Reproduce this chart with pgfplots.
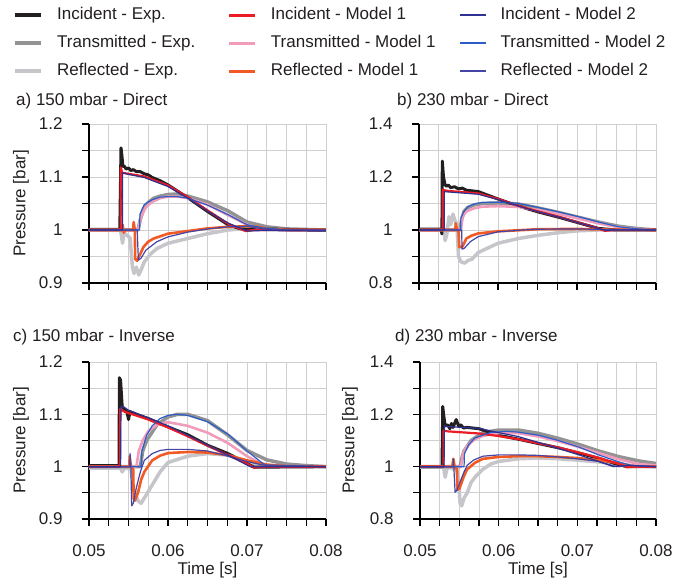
\documentclass[border=0pt]{standalone}
\usepackage{pgfplots}
\pgfplotsset{compat=1.18}
\usepackage{fontspec}
\setmainfont{Liberation Sans}
\definecolor{cIE}{HTML}{231F20}
\definecolor{cTE}{HTML}{939393}
\definecolor{cRE}{HTML}{C6C6CA}
\definecolor{cI1}{HTML}{ED1C24}
\definecolor{cT1}{HTML}{F19CBB}
\definecolor{cR1}{HTML}{F15A24}
\definecolor{cI2}{HTML}{2E3192}
\definecolor{cT2}{HTML}{2B5CC8}
\definecolor{cR2}{HTML}{4545A5}
\definecolor{gridc}{HTML}{CFCFCF}
\definecolor{txt}{HTML}{231F20}
\newcommand{\fs}{\fontsize{17}{20}\selectfont}
\pgfplotsset{
  ie/.style={color=cIE, line width=3pt, line join=round},
  te/.style={color=cTE, line width=3.5pt, line join=round},
  re/.style={color=cRE, line width=3.5pt, line join=round},
  i1/.style={color=cI1, line width=2.2pt, line join=round},
  t1/.style={color=cT1, line width=2.6pt, line join=round},
  r1/.style={color=cR1, line width=2.6pt, line join=round},
  i2/.style={color=cI2, line width=1.2pt, line join=round},
  t2/.style={color=cT2, line width=1.2pt, line join=round},
  r2/.style={color=cR2, line width=1.2pt, line join=round},
  panel/.style={
    scale only axis, width=237pt, height=159pt,
    xmin=0.05, xmax=0.08,
    xtick={0.05,0.06,0.07,0.08},
    minor xtick={0.0525,0.055,0.0575,0.0625,0.065,0.0675,0.0725,0.075,0.0775},
    scaled x ticks=false, scaled y ticks=false,
    grid=both,
    major grid style={draw=gridc, line width=0.9pt},
    minor grid style={draw=gridc, line width=0.9pt},
    axis x line*=bottom, axis y line*=left,
    axis line style={line width=2.4pt, black},
    tick align=outside, major tick length=7pt, minor tick length=7pt,
    every tick/.style={line width=1.3pt, black},
    ticklabel style={font=\fs, text=txt},
    xticklabel style={yshift=-15pt},
    yticklabel style={xshift=-16pt},
    every axis y label/.style={at={(axis description cs:-0.287,0.5)}, rotate=90, anchor=center, font=\fs, text=txt},
    every axis x label/.style={at={(axis description cs:0.5,-0.325)}, anchor=center, font=\fs, text=txt},
    no markers,
    legend image code/.code={\draw[##1] (0pt,0pt) -- (26pt,0pt);},
  },
  lowy/.style={ymin=0.9, ymax=1.2, ytick={0.9,1,1.1,1.2}, yticklabels={0.9,1,1.1,1.2}, minor ytick={0.95,1.05,1.15}},
  highy/.style={ymin=0.8, ymax=1.4, ytick={0.8,1,1.2,1.4}, yticklabels={0.8,1,1.2,1.4}, minor ytick={0.9,1.1,1.3}},
}
\begin{document}
\begin{tikzpicture}
\path[use as bounding box] (0,0) rectangle (673pt,586pt);
% ---------------- a) 150 mbar - Direct
\begin{axis}[panel, lowy, at={(89pt,303pt)}, anchor=south west,
  xticklabels={}, ylabel={Pressure [bar]},
  legend columns=3,
  legend style={at={(axis description cs:-0.3207,1.735)}, anchor=north west, draw=none, fill=none,
    inner sep=0pt, font=\fs, text=txt,
    nodes={inner sep=0pt, text height=12.5pt, text depth=3.5pt},
    row sep=12pt, column sep=0pt,
    /tikz/column 1/.style={column sep=14pt},
    /tikz/column 2/.style={column sep=32pt},
    /tikz/column 3/.style={column sep=14pt},
    /tikz/column 4/.style={column sep=23pt},
    /tikz/column 5/.style={column sep=14pt}},
  legend cell align=left]
\addlegendimage{color=cIE, line width=4pt}\addlegendentry{Incident - Exp.}
\addlegendimage{color=cI1, line width=3.5pt}\addlegendentry{Incident - Model 1}
\addlegendimage{color=cI2, line width=2pt}\addlegendentry{Incident - Model 2}
\addlegendimage{color=cTE, line width=4pt}\addlegendentry{Transmitted - Exp.}
\addlegendimage{color=cT1, line width=3.5pt}\addlegendentry{Transmitted - Model 1}
\addlegendimage{color=cT2, line width=2pt}\addlegendentry{Transmitted - Model 2}
\addlegendimage{color=cRE, line width=4pt}\addlegendentry{Reflected - Exp.}
\addlegendimage{color=cR1, line width=3.5pt}\addlegendentry{Reflected - Model 1}
\addlegendimage{color=cR2, line width=2pt}\addlegendentry{Reflected - Model 2}
% reflected exp
\addplot[re, forget plot] coordinates {(0.05,1.0) (0.0540,1.0) (0.0541,0.99) (0.05425,0.975) (0.0544,0.995) (0.0548,0.99) (0.0552,0.985) (0.0555,0.93) (0.0557,0.918) (0.0560,0.93) (0.0563,0.915) (0.0566,0.925) (0.0570,0.94) (0.0578,0.955) (0.0586,0.965) (0.0600,0.975) (0.0625,0.984) (0.0650,0.993) (0.0676,1.0) (0.0700,1.003) (0.0750,1.001) (0.08,1.0)};
% transmitted exp
\addplot[te, forget plot] coordinates {(0.05,1.0) (0.0562,1.0) (0.0565,1.02) (0.0569,1.04) (0.0575,1.052) (0.0582,1.06) (0.0590,1.064) (0.0600,1.067) (0.0612,1.068) (0.0625,1.064) (0.0650,1.053) (0.0676,1.036) (0.0700,1.015) (0.0725,1.006) (0.0750,1.002) (0.08,1.0)};
% incident exp
\addplot[ie, forget plot] coordinates {(0.05,1.001) (0.0539,1.001) (0.05405,1.155) (0.0541,1.15) (0.0543,1.12) (0.0545,1.12) (0.0547,1.115) (0.0550,1.117) (0.0553,1.112) (0.0556,1.114) (0.0560,1.110) (0.0565,1.110) (0.0570,1.106) (0.0575,1.104) (0.0580,1.099) (0.0590,1.093) (0.0600,1.085) (0.0625,1.061) (0.0650,1.035) (0.0676,1.010) (0.0690,1.003) (0.0700,1.001) (0.0720,1.002) (0.0750,1.001) (0.08,1.0)};
% model 1
\addplot[t1, forget plot] coordinates {(0.05,1.0) (0.0562,1.0) (0.0566,1.025) (0.0572,1.043) (0.0580,1.053) (0.0590,1.06) (0.0600,1.063) (0.0612,1.063) (0.0625,1.06) (0.0650,1.048) (0.0676,1.028) (0.0700,1.01) (0.0720,1.002) (0.0750,1.0) (0.08,1.0)};
\addplot[r1, forget plot] coordinates {(0.05,1.0) (0.0542,1.0) (0.05425,1.01) (0.0544,0.995) (0.0546,1.0) (0.0556,1.0) (0.05565,1.015) (0.0558,1.0) (0.05585,0.945) (0.0561,0.942) (0.0565,0.955) (0.0569,0.968) (0.0575,0.978) (0.0582,0.984) (0.0600,0.993) (0.0625,0.998) (0.0650,1.003) (0.0676,1.006) (0.0700,1.007) (0.0715,1.006) (0.0725,1.002) (0.075,1.0) (0.08,1.0)};
\addplot[i1, forget plot] coordinates {(0.05,1.0) (0.0540,1.0) (0.05401,1.118) (0.0542,1.108) (0.0550,1.106) (0.0570,1.101) (0.0600,1.084) (0.0625,1.062) (0.0650,1.037) (0.0676,1.012) (0.0698,0.998) (0.0710,1.0) (0.08,1.0)};
% model 2
\addplot[t2, forget plot] coordinates {(0.05,1.0) (0.0564,1.0) (0.05645,1.03) (0.0570,1.048) (0.0580,1.057) (0.0590,1.062) (0.0600,1.063) (0.0612,1.063) (0.0625,1.06) (0.0650,1.047) (0.0676,1.029) (0.0700,1.01) (0.0720,1.004) (0.0750,1.0) (0.08,0.999)};
\addplot[r2, forget plot] coordinates {(0.05,1.0) (0.0561,1.0) (0.05625,0.943) (0.0566,0.947) (0.0572,0.962) (0.0586,0.978) (0.0600,0.987) (0.0625,0.996) (0.0650,1.002) (0.0676,1.006) (0.0700,1.007) (0.0720,1.002) (0.0750,1.0) (0.08,1.0)};
\addplot[i2, forget plot] coordinates {(0.05,1.0) (0.05423,1.0) (0.05425,1.108) (0.0550,1.105) (0.0570,1.099) (0.0600,1.082) (0.0625,1.06) (0.0650,1.036) (0.0676,1.013) (0.0700,0.998) (0.0720,0.999) (0.08,0.998)};
\end{axis}
% ---------------- b) 230 mbar - Direct
\begin{axis}[panel, highy, at={(419pt,303pt)}, anchor=south west, xticklabels={}]
\addplot[re] coordinates {(0.05,1.0) (0.0532,1.0) (0.0533,0.96) (0.0535,0.98) (0.0538,1.05) (0.0540,1.02) (0.0543,1.06) (0.0545,1.04) (0.0548,1.02) (0.0550,0.9) (0.0553,0.88) (0.0558,0.875) (0.0562,0.885) (0.0567,0.89) (0.0575,0.915) (0.06,0.95) (0.0626,0.968) (0.0651,0.98) (0.0677,0.99) (0.0702,0.997) (0.0727,1.0) (0.08,1.0)};
\addplot[te] coordinates {(0.05,1.0) (0.0552,1.0) (0.0554,1.04) (0.0557,1.07) (0.0562,1.085) (0.057,1.095) (0.058,1.1) (0.060,1.102) (0.0626,1.098) (0.0651,1.083) (0.0677,1.066) (0.0702,1.048) (0.0727,1.03) (0.0753,1.014) (0.0778,1.005) (0.08,1.0)};
\addplot[ie] coordinates {(0.05,1.003) (0.0528,1.003) (0.0529,0.985) (0.05295,1.26) (0.0531,1.2) (0.0533,1.17) (0.0535,1.165) (0.0537,1.17) (0.054,1.16) (0.0545,1.163) (0.055,1.155) (0.0555,1.158) (0.056,1.15) (0.0575,1.145) (0.060,1.117) (0.0626,1.09) (0.0651,1.068) (0.0677,1.048) (0.0702,1.027) (0.0727,1.006) (0.075,1.0) (0.08,1.0)};
\addplot[t1] coordinates {(0.05,1.0) (0.0553,1.0) (0.0555,1.05) (0.056,1.07) (0.057,1.082) (0.058,1.088) (0.060,1.09) (0.0626,1.087) (0.0651,1.075) (0.0677,1.06) (0.0702,1.043) (0.0727,1.025) (0.0753,1.01) (0.0778,1.003) (0.08,1.0)};
\addplot[r1] coordinates {(0.05,1.0) (0.0546,1.0) (0.05465,1.025) (0.0548,1.0) (0.055,0.995) (0.0551,0.935) (0.0555,0.937) (0.056,0.968) (0.0566,0.978) (0.0575,0.987) (0.06,0.995) (0.0626,0.999) (0.0651,1.003) (0.07,1.004) (0.075,1.001) (0.08,1.0)};
\addplot[i1] coordinates {(0.05,1.0) (0.0530,1.0) (0.05301,1.152) (0.0535,1.148) (0.0575,1.138) (0.06,1.117) (0.0626,1.091) (0.0651,1.07) (0.0677,1.05) (0.0702,1.028) (0.0727,1.006) (0.0735,0.997) (0.075,1.0) (0.08,1.0)};
\addplot[t2] coordinates {(0.05,1.0) (0.05528,1.0) (0.0553,1.045) (0.0557,1.07) (0.0562,1.088) (0.057,1.098) (0.058,1.104) (0.060,1.105) (0.0626,1.1) (0.0651,1.085) (0.0677,1.068) (0.0702,1.05) (0.0727,1.03) (0.0753,1.012) (0.0778,1.004) (0.08,1.0)};
\addplot[r2] coordinates {(0.05,1.0) (0.0554,1.0) (0.05545,0.928) (0.0557,0.93) (0.0565,0.956) (0.0575,0.975) (0.06,0.993) (0.0626,0.999) (0.0651,1.003) (0.07,1.004) (0.075,1.001) (0.08,1.0)};
\addplot[i2] coordinates {(0.05,1.0) (0.0532,1.0) (0.05321,1.145) (0.0535,1.144) (0.0575,1.135) (0.06,1.115) (0.0626,1.09) (0.0651,1.069) (0.0677,1.049) (0.0702,1.027) (0.0727,1.006) (0.0737,0.998) (0.075,1.0) (0.08,1.0)};
\end{axis}
% ---------------- c) 150 mbar - Inverse
\begin{axis}[panel, lowy, height=157pt, at={(89pt,67pt)}, anchor=south west,
  xticklabels={0.05,0.06,0.07,0.08}, ylabel={Pressure [bar]}, xlabel={Time [s]}]
\addplot[re] coordinates {(0.05,0.997) (0.054,0.997) (0.0542,0.99) (0.0545,0.998) (0.0553,0.995) (0.0556,0.96) (0.0562,0.935) (0.0566,0.93) (0.057,0.94) (0.058,0.965) (0.059,0.99) (0.06,1.008) (0.0625,1.02) (0.065,1.025) (0.0676,1.022) (0.07,1.008) (0.0725,1.0) (0.08,1.0)};
\addplot[te] coordinates {(0.05,1.0) (0.0565,1.0) (0.0568,1.03) (0.0573,1.05) (0.0586,1.08) (0.06,1.095) (0.0612,1.1) (0.0625,1.1) (0.065,1.088) (0.0676,1.06) (0.07,1.031) (0.0725,1.013) (0.075,1.005) (0.0775,1.002) (0.08,1.0)};
\addplot[ie] coordinates {(0.05,1.002) (0.0538,1.002) (0.05385,1.17) (0.054,1.165) (0.0542,1.115) (0.0545,1.11) (0.0548,1.105) (0.0550,1.09) (0.0552,1.105) (0.0557,1.102) (0.056,1.1) (0.0575,1.092) (0.06,1.076) (0.0625,1.061) (0.065,1.041) (0.0676,1.025) (0.07,1.006) (0.0709,0.999) (0.08,1.0)};
\addplot[t1] coordinates {(0.05,1.0) (0.0560,1.0) (0.0563,1.03) (0.0568,1.05) (0.0575,1.068) (0.0586,1.08) (0.06,1.085) (0.0625,1.078) (0.065,1.065) (0.0676,1.045) (0.07,1.02) (0.0721,1.004) (0.074,1.0) (0.08,1.0)};
\addplot[r1] coordinates {(0.05,1.0) (0.0551,1.0) (0.05515,1.02) (0.0553,1.0) (0.0556,0.995) (0.05565,0.94) (0.0558,0.935) (0.0562,0.95) (0.0566,0.975) (0.057,0.99) (0.058,1.012) (0.059,1.021) (0.06,1.026) (0.0625,1.028) (0.065,1.027) (0.0676,1.022) (0.07,1.012) (0.0725,1.004) (0.075,1.001) (0.08,1.0)};
\addplot[i1] coordinates {(0.05,1.0) (0.0539,1.0) (0.05395,1.11) (0.0545,1.105) (0.0575,1.09) (0.06,1.075) (0.0625,1.058) (0.065,1.04) (0.0676,1.022) (0.07,1.006) (0.0709,0.998) (0.072,1.0) (0.08,1.0)};
\addplot[t2] coordinates {(0.05,1.0) (0.0566,1.0) (0.0567,1.03) (0.0573,1.06) (0.058,1.078) (0.059,1.092) (0.06,1.098) (0.0611,1.1) (0.0625,1.098) (0.065,1.086) (0.0676,1.062) (0.07,1.03) (0.0721,1.005) (0.0725,1.003) (0.08,1.0)};
\addplot[r2] coordinates {(0.05,1.0) (0.05515,1.0) (0.0552,1.025) (0.0553,1.0) (0.0554,0.925) (0.0556,0.93) (0.056,0.96) (0.0565,0.99) (0.057,1.012) (0.058,1.025) (0.059,1.031) (0.06,1.033) (0.0625,1.033) (0.065,1.03) (0.0676,1.02) (0.07,1.01) (0.072,1.003) (0.08,1.0)};
\addplot[i2] coordinates {(0.05,1.0) (0.054,1.0) (0.05405,1.115) (0.0545,1.113) (0.055,1.108) (0.0575,1.093) (0.06,1.078) (0.0625,1.06) (0.065,1.041) (0.0676,1.022) (0.0704,1.0) (0.073,1.0) (0.08,1.0)};
\end{axis}
% ---------------- d) 230 mbar - Inverse
\begin{axis}[panel, highy, width=236pt, height=157pt, at={(420pt,67pt)}, anchor=south west,
  xticklabels={0.05,0.06,0.07,0.08}, ylabel={Pressure [bar]}, xlabel={Time [s]},
  every axis y label/.style={at={(axis description cs:-0.297,0.5)}, rotate=90, anchor=center, font=\fs, text=txt}]
\addplot[re] coordinates {(0.05,0.998) (0.053,0.998) (0.0532,0.96) (0.0534,0.99) (0.0538,1.0) (0.0542,0.99) (0.0546,1.0) (0.0549,0.95) (0.0551,0.86) (0.0553,0.85) (0.0556,0.88) (0.056,0.9) (0.0565,0.94) (0.057,0.96) (0.058,0.99) (0.059,1.01) (0.06,1.02) (0.0625,1.03) (0.065,1.033) (0.0676,1.03) (0.07,1.025) (0.0727,1.018) (0.075,1.01) (0.0775,1.003) (0.08,1.0)};
\addplot[te] coordinates {(0.05,1.0) (0.0551,1.0) (0.0553,1.03) (0.0556,1.06) (0.0565,1.1) (0.058,1.13) (0.06,1.14) (0.0625,1.14) (0.0651,1.127) (0.0676,1.108) (0.0702,1.085) (0.0727,1.06) (0.0753,1.038) (0.0778,1.022) (0.08,1.012)};
\addplot[ie] coordinates {(0.05,1.0) (0.0528,1.0) (0.05289,1.23) (0.053,1.2) (0.0532,1.155) (0.0535,1.16) (0.0538,1.145) (0.054,1.165) (0.0542,1.15) (0.0546,1.18) (0.0549,1.155) (0.0552,1.16) (0.0555,1.148) (0.056,1.15) (0.0575,1.145) (0.06,1.12) (0.0625,1.105) (0.0651,1.088) (0.0676,1.072) (0.0702,1.052) (0.0727,1.032) (0.075,1.01) (0.0763,1.0) (0.08,1.0)};
\addplot[t1] coordinates {(0.05,1.0) (0.0552,1.0) (0.0555,1.05) (0.056,1.08) (0.057,1.105) (0.058,1.118) (0.06,1.128) (0.0625,1.128) (0.0651,1.115) (0.0676,1.097) (0.0702,1.075) (0.0727,1.052) (0.0753,1.028) (0.0778,1.01) (0.08,1.005)};
\addplot[r1] coordinates {(0.05,1.0) (0.0541,1.0) (0.05424,1.03) (0.0544,1.0) (0.0547,0.99) (0.05475,0.912) (0.055,0.915) (0.0553,0.94) (0.0556,0.965) (0.056,0.99) (0.057,1.015) (0.058,1.03) (0.06,1.037) (0.0625,1.04) (0.065,1.04) (0.0676,1.037) (0.07,1.033) (0.0727,1.025) (0.075,1.015) (0.0765,1.005) (0.0775,1.0) (0.08,1.0)};
\addplot[i1] coordinates {(0.05,1.0) (0.05297,1.0) (0.053,1.138) (0.0535,1.135) (0.0574,1.127) (0.06,1.117) (0.0625,1.105) (0.0651,1.089) (0.0676,1.073) (0.0702,1.054) (0.0727,1.034) (0.0753,1.01) (0.0763,0.998) (0.0775,1.0) (0.08,1.0)};
\addplot[t2] coordinates {(0.05,1.0) (0.0556,1.0) (0.05565,1.05) (0.0562,1.085) (0.057,1.11) (0.0589,1.13) (0.061,1.135) (0.0625,1.132) (0.0651,1.12) (0.0676,1.1) (0.0702,1.075) (0.0727,1.045) (0.0753,1.018) (0.0768,1.005) (0.08,1.0)};
\addplot[r2] coordinates {(0.05,1.0) (0.0542,1.0) (0.05424,1.03) (0.0543,1.0) (0.05446,0.902) (0.0547,0.91) (0.0552,0.95) (0.0556,0.98) (0.056,1.005) (0.0568,1.025) (0.058,1.04) (0.06,1.045) (0.0625,1.045) (0.065,1.043) (0.0676,1.037) (0.07,1.03) (0.0727,1.02) (0.0746,1.003) (0.0753,1.0) (0.0765,1.005) (0.08,1.0)};
\addplot[i2] coordinates {(0.05,1.0) (0.05306,1.0) (0.0531,1.156) (0.0535,1.153) (0.0574,1.147) (0.06,1.13) (0.0625,1.115) (0.0651,1.092) (0.0676,1.07) (0.0702,1.045) (0.0727,1.02) (0.0746,1.0) (0.0765,1.005) (0.08,1.0)};
\end{axis}
% titles
\node[anchor=west, inner sep=0pt, font=\fs, text=txt] at (16pt,485pt) {a) 150 mbar - Direct};
\node[anchor=west, inner sep=0pt, font=\fs, text=txt] at (397pt,485pt) {b) 230 mbar - Direct};
\node[anchor=west, inner sep=0pt, font=\fs, text=txt] at (13pt,249pt) {c) 150 mbar - Inverse};
\node[anchor=west, inner sep=0pt, font=\fs, text=txt] at (395pt,249pt) {d) 230 mbar - Inverse};
\end{tikzpicture}
\end{document}
